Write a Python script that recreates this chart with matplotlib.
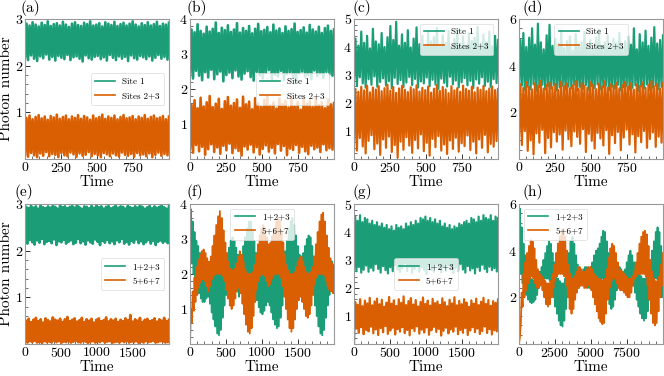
import numpy as np
import matplotlib
matplotlib.use("Agg")
import matplotlib.pyplot as plt
from matplotlib.ticker import AutoMinorLocator

plt.rcParams['font.family'] = ['cmr10', 'DejaVu Serif']
plt.rcParams['axes.formatter.use_mathtext'] = True
plt.rcParams['mathtext.fontset'] = 'cm'

GREEN = '#1b9e77'
ORANGE = '#d95f02'

# ---------------- data (peaks / troughs) ----------------
a_s1_hi = [2.90,2.86,2.93,2.88,2.84,2.92,2.87,2.95,2.85,2.89,2.91,2.86,2.94,2.88,2.83,2.90,2.93,2.87,2.85,2.92,2.89,2.95,2.86,2.88,2.91,2.84,2.93,2.90,2.87,2.94,2.85,2.89,2.92,2.86,2.90,2.95,2.88,2.84,2.91,2.87,2.93,2.86,2.89,2.94,2.85,2.90,2.88,2.92]
a_s1_lo = [2.18,2.12,2.22,2.15,2.10,2.20,2.16,2.24,2.13,2.19,2.11,2.21,2.17,2.14,2.23,2.12,2.18,2.20,2.15,2.09,2.22,2.16,2.13,2.19,2.21,2.14,2.18,2.11,2.23,2.17,2.12,2.20,2.15,2.19,2.10,2.22,2.16,2.13,2.21,2.18,2.14,2.20,2.11,2.17,2.23,2.15,2.19,2.13]
a_s23_hi = [0.88,0.93,0.85,0.90,0.94,0.87,0.91,0.84,0.92,0.89,0.95,0.86,0.90,0.93,0.85,0.91,0.88,0.94,0.86,0.92,0.89,0.84,0.93,0.87,0.90,0.95,0.86,0.91,0.88,0.93,0.85,0.90,0.94,0.87,0.89,0.92,0.85,0.91,0.88,0.94,0.86,0.90,0.93,0.87,0.89,0.92,0.85,0.91]
a_s23_lo = [0.10,0.05,0.13,0.08,0.04,0.12,0.07,0.15,0.06,0.11,0.09,0.04,0.13,0.08,0.06,0.14,0.10,0.05,0.12,0.07,0.09,0.15,0.06,0.11,0.08,0.04,0.13,0.10,0.06,0.12,0.08,0.05,0.14,0.09,0.07,0.11,0.05,0.13,0.08,0.10,0.06,0.12,0.04,0.09,0.14,0.07,0.11,0.08]

b_s1_hi = [3.70,3.62,3.85,3.66,3.58,3.78,3.64,3.72,3.90,3.60,3.75,3.68,3.82,3.63,3.70,3.88,3.61,3.74,3.66,3.80,3.59,3.72,3.86,3.65,3.69,3.77,3.62,3.84,3.67,3.73,3.60,3.79,3.66,3.71,3.87,3.63,3.68,3.76,3.61,3.83,3.70,3.64,3.78,3.60,3.74,3.81,3.66,3.70]
b_s1_lo = [2.45,2.30,2.52,2.38,2.25,2.48,2.33,2.55,2.28,2.42,2.50,2.22,2.40,2.47,2.31,2.53,2.36,2.27,2.44,2.51,2.34,2.24,2.49,2.39,2.30,2.46,2.54,2.29,2.41,2.36,2.52,2.26,2.43,2.48,2.32,2.21,2.45,2.50,2.35,2.40,2.28,2.53,2.37,2.44,2.31,2.49,2.42,2.38]
b_s23_hi = [1.55,1.68,1.45,1.75,1.50,1.62,1.80,1.48,1.58,1.72,1.43,1.65,1.77,1.52,1.60,1.70,1.46,1.78,1.56,1.64,1.42,1.74,1.59,1.49,1.69,1.79,1.53,1.61,1.44,1.73,1.57,1.66,1.47,1.76,1.51,1.63,1.41,1.71,1.58,1.67,1.48,1.75,1.54,1.62,1.45,1.70,1.56,1.60]
b_s23_lo = [0.30,0.18,0.40,0.22,0.35,0.12,0.28,0.42,0.20,0.33,0.15,0.38,0.25,0.44,0.17,0.31,0.23,0.10,0.36,0.27,0.41,0.19,0.34,0.13,0.29,0.39,0.21,0.32,0.16,0.43,0.24,0.37,0.11,0.30,0.26,0.40,0.18,0.35,0.22,0.14,0.38,0.28,0.33,0.20,0.42,0.25,0.31,0.27]

c_s1_hi = [4.30,4.05,4.55,4.15,4.40,3.95,4.65,4.20,4.10,4.50,4.00,4.35,4.75,4.25,4.90,4.05,4.45,4.15,4.60,3.98,4.30,4.70,4.10,4.40,4.02,4.55,4.20,4.35,4.68,4.08,4.42,4.15,4.58,4.00,4.28,4.62,4.12,4.38,4.05,4.50,4.22,4.33,4.72,4.10,4.45,4.18,4.55,4.03,4.40,4.25]
c_s1_lo = [2.80,2.60,2.92,2.70,2.55,2.85,2.65,2.95,2.58,2.75,2.88,2.62,2.78,2.52,2.90,2.68,2.82,2.57,2.73,2.93,2.64,2.86,2.55,2.77,2.70,2.91,2.60,2.83,2.66,2.50,2.87,2.72,2.59,2.94,2.67,2.80,2.56,2.74,2.89,2.63,2.79,2.53,2.84,2.69,2.92,2.61,2.76,2.58,2.85,2.71]
c_s23_hi = [2.50,2.40,2.58,2.45,2.62,2.38,2.55,2.48,2.60,2.42,2.53,2.65,2.44,2.57,2.36,2.52,2.61,2.47,2.39,2.56,2.49,2.63,2.41,2.54,2.46,2.59,2.37,2.51,2.64,2.43,2.57,2.48,2.35,2.60,2.45,2.53,2.40,2.62,2.50,2.44,2.58,2.38,2.55,2.47,2.61,2.42,2.52,2.59,2.46,2.50]
c_s23_lo = [0.60,0.30,0.75,0.45,0.20,0.65,0.85,0.35,0.55,0.15,0.70,0.40,0.80,0.25,0.50,0.05,0.62,0.33,0.78,0.48,0.22,0.68,0.38,0.88,0.28,0.58,0.12,0.72,0.42,0.82,0.30,0.52,0.18,0.66,0.36,0.76,0.26,0.56,0.46,0.84,0.32,0.62,0.20,0.70,0.40,0.86,0.24,0.54,0.44,0.64]

d_s1_hi = [5.10,5.40,4.80,5.20,5.60,4.90,5.80,5.00,4.70,5.30,5.75,4.85,5.15,4.95,5.50,4.75,5.05,5.25,4.65,5.35,4.90,5.00,5.45,4.80,5.10,4.70,5.20,5.55,4.85,5.00,5.30,4.75,5.15,4.95,5.40,4.80,5.05,5.25,4.90,5.60,4.70,5.35,5.00,5.50,4.85,5.20,5.65,4.95,5.10,5.30]
d_s1_lo = [3.05,3.15,2.95,3.10,3.00,3.20,2.92,3.08,3.18,2.98,3.12,3.02,3.16,2.94,3.06,3.14,2.97,3.11,3.03,3.19,2.93,3.09,3.01,3.17,2.96,3.13,3.04,3.20,2.99,3.07,3.15,2.95,3.10,3.02,3.18,2.94,3.08,3.12,2.98,3.05,3.16,2.92,3.11,3.03,3.19,2.97,3.06,3.14,3.00,3.09]
d_s23_hi = [3.20,3.05,3.30,3.10,2.98,3.25,3.15,3.35,3.02,3.18,3.28,3.08,3.22,2.96,3.32,3.12,3.24,3.04,3.16,3.34,3.00,3.26,3.14,3.06,3.30,3.19,2.99,3.23,3.11,3.33,3.07,3.21,3.15,3.27,3.03,3.17,3.31,3.09,3.25,2.97,3.20,3.13,3.29,3.05,3.18,3.34,3.10,3.22,3.01,3.26]
d_s23_lo = [1.00,0.60,1.20,0.35,0.80,0.20,1.10,0.70,1.25,0.25,0.90,0.50,1.15,0.75,1.05,0.40,1.22,0.85,0.55,1.18,0.95,0.65,1.28,0.30,1.08,0.78,0.45,1.12,0.88,0.58,1.24,0.22,1.02,0.68,1.16,0.38,0.92,1.26,0.62,1.06,0.28,0.98,0.72,1.20,0.48,0.86,1.14,0.52,0.96,0.70]

e_s123_hi = [2.94,2.91,2.96,2.92,2.95,2.90,2.97,2.93,2.91,2.95,2.92,2.96,2.94,2.90,2.97,2.93,2.95,2.91,2.94,2.96,2.92,2.98,2.93,2.90,2.95,2.94,2.91,2.96,2.92,2.97,2.93,2.95,2.90,2.94,2.96,2.91,2.93,2.97,2.92,2.95,2.94,2.90,2.96,2.93,2.91,2.95,2.92,2.97,2.94,2.90,2.93,2.96,2.91,2.95,2.92,2.94,2.97,2.93,2.90,2.95]
e_s123_lo = [2.20,2.15,2.23,2.18,2.13,2.22,2.17,2.25,2.14,2.19,2.21,2.16,2.24,2.12,2.20,2.18,2.23,2.15,2.19,2.22,2.14,2.17,2.25,2.16,2.20,2.13,2.22,2.18,2.15,2.24,2.19,2.12,2.21,2.17,2.23,2.16,2.20,2.14,2.22,2.18,2.25,2.15,2.19,2.13,2.21,2.17,2.24,2.16,2.20,2.14,2.18,2.23,2.15,2.21,2.12,2.19,2.22,2.17,2.20,2.16]
e_s567_hi = [0.50,0.54,0.47,0.52,0.56,0.49,0.53,0.46,0.55,0.51,0.48,0.57,0.52,0.50,0.54,0.47,0.53,0.58,0.49,0.52,0.55,0.48,0.51,0.56,0.47,0.53,0.50,0.54,0.46,0.52,0.55,0.49,0.51,0.57,0.48,0.53,0.50,0.54,0.47,0.52,0.49,0.55,0.51,0.62,0.48,0.53,0.50,0.56,0.47,0.52,0.54,0.49,0.51,0.55,0.48,0.53,0.50,0.56,0.49,0.52]
e_s567_lo = [0.05,0.03,0.06,0.04,0.07,0.03,0.05,0.02,0.06,0.04,0.05,0.03,0.07,0.04,0.06,0.02,0.05,0.04,0.06,0.03,0.05,0.07,0.04,0.03,0.06,0.05,0.02,0.04,0.06,0.03,0.05,0.04,0.07,0.03,0.05,0.06,0.02,0.04,0.05,0.03,0.06,0.04,0.07,0.03,0.05,0.04,0.06,0.02,0.05,0.03,0.06,0.04,0.05,0.07,0.03,0.04,0.06,0.05,0.03,0.04]

f_s123_hi = [3.85,3.50,3.20,2.95,2.80,2.60,2.45,2.35,2.30,2.25,2.20,2.15,2.10,2.05,2.00,2.00,2.00,2.05,2.15,2.35,2.55,2.75,2.95,3.05,2.95,2.75,2.55,2.40,2.55,2.80,3.05,3.30,3.50,3.50,3.25,2.95,2.60,2.35,2.15,2.05,2.00,2.05,2.15,2.25,2.20,2.10,2.05,2.00,2.00,2.00,2.10,2.35,2.65,2.95,3.25,3.50,3.60,3.40,3.10,2.80,2.55,2.50,2.60,2.80,3.00,3.10,3.05,2.80,2.50,2.25,2.10,2.00,2.00,2.00,2.05,2.15,2.30,2.40,2.35,2.25]
f_s123_lo = [2.60,2.30,2.00,1.80,1.60,1.45,1.30,1.20,1.20,1.30,1.35,1.15,0.90,0.70,0.50,0.30,0.25,0.40,0.75,1.10,1.40,1.70,1.90,2.00,1.95,1.75,1.50,1.35,1.45,1.70,1.90,2.00,2.00,2.00,1.95,1.75,1.50,1.25,1.05,0.90,0.85,0.95,1.10,1.20,1.10,0.90,0.70,0.55,0.45,0.50,0.75,1.10,1.45,1.75,1.95,2.00,2.00,1.95,1.80,1.60,1.50,1.45,1.60,1.80,1.95,2.00,1.95,1.75,1.45,1.10,0.80,0.50,0.30,0.25,0.40,0.75,1.10,1.40,1.60,1.75]
f_s567_hi = [1.00,1.50,1.90,2.20,2.40,2.55,2.65,2.70,2.60,2.45,2.35,2.50,2.80,3.10,3.40,3.65,3.80,3.60,3.25,2.90,2.60,2.35,2.15,2.10,2.15,2.30,2.50,2.65,2.55,2.35,2.15,2.05,2.00,2.00,2.05,2.25,2.55,2.85,3.10,3.30,3.40,3.30,3.05,2.85,2.90,3.10,3.30,3.50,3.60,3.55,3.25,2.90,2.55,2.25,2.10,2.00,2.00,2.05,2.20,2.35,2.45,2.50,2.35,2.20,2.05,2.00,2.05,2.20,2.50,2.85,3.20,3.50,3.70,3.75,3.50,3.10,2.75,2.45,2.30,2.10]
f_s567_lo = [0.05,0.60,0.95,1.20,1.40,1.60,1.75,1.85,1.80,1.65,1.50,1.65,1.85,1.95,2.00,2.00,2.00,2.00,1.95,1.80,1.55,1.30,1.10,1.00,1.10,1.30,1.50,1.60,1.45,1.15,0.85,0.55,0.35,0.30,0.45,0.80,1.20,1.55,1.80,1.95,2.00,1.95,1.80,1.65,1.70,1.85,1.95,2.00,2.00,2.00,1.90,1.65,1.35,1.00,0.70,0.45,0.35,0.45,0.70,1.00,1.25,1.35,1.20,1.00,0.80,0.75,0.85,1.10,1.40,1.70,1.90,2.00,2.00,2.00,1.95,1.80,1.65,1.55,1.50,1.45]

g_s123_hi = [4.55,4.40,4.60,4.35,4.50,4.45,4.30,4.40,4.25,4.35,4.20,4.30,4.15,4.25,4.10,4.20,4.05,4.25,4.15,4.20,4.10,4.30,4.20,4.35,4.25,4.40,4.30,4.50,4.45,4.55,4.40,4.50,4.35,4.45,4.30,4.40,4.20,4.30,4.15,4.25,4.10,4.20,4.15,4.30,4.25,4.35,4.40,4.30,4.50,4.45,4.35,4.55,4.40,4.60,4.50,4.45,4.60,4.40,4.55,4.50]
g_s123_lo = [2.70,2.60,2.75,2.55,2.65,2.80,2.58,2.72,2.62,2.85,2.68,2.55,2.78,2.64,2.52,2.74,2.60,2.82,2.66,2.57,2.70,2.88,2.61,2.76,2.54,2.68,2.80,2.59,2.73,2.63,2.50,2.77,2.65,2.58,2.84,2.69,2.56,2.75,2.62,2.81,2.67,2.53,2.72,2.60,2.86,2.66,2.55,2.78,2.63,2.70,2.52,2.74,2.61,2.83,2.68,2.57,2.76,2.64,2.71,2.59]
g_s567_hi = [1.50,1.40,1.60,1.35,1.55,1.45,1.65,1.38,1.52,1.62,1.42,1.58,1.33,1.48,1.68,1.44,1.56,1.36,1.60,1.47,1.70,1.39,1.53,1.64,1.41,1.57,1.34,1.50,1.66,1.43,1.55,1.37,1.61,1.46,1.52,1.40,1.63,1.49,1.35,1.58,1.45,1.67,1.38,1.54,1.42,1.60,1.48,1.33,1.56,1.44,1.62,1.39,1.51,1.65,1.43,1.57,1.36,1.53,1.47,1.59]
g_s567_lo = [0.00,0.55,0.40,0.60,0.35,0.50,0.45,0.62,0.38,0.52,0.32,0.57,0.42,0.64,0.36,0.48,0.58,0.34,0.53,0.44,0.60,0.39,0.50,0.31,0.56,0.46,0.63,0.37,0.51,0.41,0.59,0.33,0.49,0.61,0.43,0.54,0.30,0.47,0.58,0.38,0.52,0.44,0.62,0.35,0.50,0.40,0.57,0.32,0.48,0.60,0.42,0.55,0.36,0.46,0.63,0.39,0.53,0.34,0.49,0.45]

h_s123_hi = [5.80,5.00,4.30,3.80,3.40,3.00,2.80,2.75,2.70,2.75,2.90,3.10,3.30,3.60,3.90,4.20,4.40,4.30,3.90,3.50,3.10,2.80,2.70,2.60,2.60,2.80,3.30,3.90,4.40,4.60,4.30,3.80,3.40,3.20,3.10,3.20,3.30,3.30,3.20,3.30,3.50,3.80,4.00,4.10,4.30,4.60,4.85,4.80,4.40,3.90,3.40,3.00,2.80,2.90,3.10,3.30,3.20,3.10,3.20,3.50,3.80,4.00,3.80,3.50,3.30,3.20,3.10,2.90,2.80,2.80,2.90,3.20,3.60,4.00,4.40,4.80,5.00,4.80,4.20,3.60]
h_s123_lo = [4.20,3.00,2.60,2.30,2.10,1.90,1.80,1.75,1.80,1.90,2.10,2.40,2.60,2.70,2.80,2.80,2.80,2.70,2.40,2.00,1.60,1.30,1.00,0.80,0.75,1.00,1.50,2.10,2.60,2.80,2.70,2.50,2.40,2.40,2.50,2.60,2.60,2.50,2.40,2.40,2.50,2.60,2.70,2.80,2.80,2.80,2.80,2.70,2.40,2.00,1.70,1.50,1.60,1.90,2.30,2.60,2.70,2.70,2.70,2.70,2.80,2.80,2.70,2.50,2.20,1.90,1.60,1.30,1.10,1.00,1.10,1.40,1.90,2.40,2.70,2.80,2.80,2.70,2.30,2.00]
h_s567_hi = [0.30,2.20,3.00,3.50,3.90,4.20,4.45,4.40,4.10,3.60,3.20,3.00,2.90,2.80,2.70,2.60,2.60,2.70,3.00,3.40,3.90,4.30,4.60,4.85,4.90,4.60,4.00,3.40,3.00,2.80,2.90,3.10,3.30,3.30,3.20,3.10,3.10,3.20,3.30,3.30,3.20,3.00,2.90,2.80,2.80,2.75,2.70,2.80,3.20,3.70,4.10,4.30,4.20,3.90,3.50,3.20,3.10,3.10,3.00,2.90,2.80,2.80,2.90,3.10,3.50,3.90,4.30,4.60,4.80,4.85,4.70,4.20,3.60,3.10,2.80,2.70,2.70,2.90,3.40,3.90]
h_s567_lo = [0.00,0.90,1.60,2.00,2.30,2.60,2.80,2.90,2.80,2.60,2.40,2.40,2.50,2.30,2.00,1.70,1.60,1.70,2.00,2.40,2.70,2.90,3.00,3.00,3.00,2.90,2.50,2.00,1.50,1.30,1.50,1.90,2.20,2.40,2.50,2.50,2.40,2.40,2.50,2.50,2.30,2.00,1.70,1.40,1.10,0.95,0.85,0.90,1.30,1.90,2.40,2.70,2.80,2.80,2.60,2.40,2.30,2.30,2.20,2.10,2.00,2.00,2.20,2.50,2.80,2.90,3.00,3.00,3.00,3.00,2.90,2.50,1.90,1.30,0.90,0.80,0.90,1.40,2.00,2.50]

panel_labels = ['(a)', '(b)', '(c)', '(d)', '(e)', '(f)', '(g)', '(h)']
legend_top = ['Site 1', 'Sites 2+3']
legend_bottom = ['1+2+3', '5+6+7']
t_end = [1000, 1000, 1000, 1000, 2000, 2000, 2000, 10000]
x_ticks = [[0, 250, 500, 750]] * 4 + [[0, 500, 1000, 1500]] * 3 + [[0, 2500, 5000, 7500]]
y_top = [3, 4, 5, 6, 3, 4, 5, 6]
y_ticks = [[1, 2, 3], [1, 2, 3, 4], [1, 2, 3, 4, 5], [2, 4, 6],
           [1, 2, 3], [1, 2, 3, 4], [1, 2, 3, 4, 5], [2, 4, 6]]
legend_loc = ['center right', 'center right', 'upper right', 'upper center',
              'center right', 'upper center', 'center', 'upper left']

series = [
    (a_s1_lo, a_s1_hi, a_s23_lo, a_s23_hi),
    (b_s1_lo, b_s1_hi, b_s23_lo, b_s23_hi),
    (c_s1_lo, c_s1_hi, c_s23_lo, c_s23_hi),
    (d_s1_lo, d_s1_hi, d_s23_lo, d_s23_hi),
    (e_s123_lo, e_s123_hi, e_s567_lo, e_s567_hi),
    (f_s123_lo, f_s123_hi, f_s567_lo, f_s567_hi),
    (g_s123_lo, g_s123_hi, g_s567_lo, g_s567_hi),
    (h_s123_lo, h_s123_hi, h_s567_lo, h_s567_hi),
]
line_w = [1.9, 1.9, 1.6, 1.6, 1.9, 1.3, 1.6, 1.3]


def zigzag(lo, hi):
    y = np.empty(2 * len(lo))
    y[0::2] = lo
    y[1::2] = hi
    return y


W, H = 664, 376
fig = plt.figure(figsize=(W / 100, H / 100), dpi=100)
lefts = [25, 190, 354, 519]
tops = [19, 204]
aw, ah = 144, 140
label_x = [[20, 187, 353, 522], [15, 187, 352, 522]]
label_y = [8, 192]

for k in range(8):
    r, c = divmod(k, 4)
    ax = fig.add_axes([lefts[c] / W, 1 - (tops[r] + ah) / H, aw / W, ah / H])
    g_lo, g_hi, o_lo, o_hi = series[k]
    yg = zigzag(g_lo, g_hi)
    yo = zigzag(o_lo, o_hi)
    tg = np.linspace(0, t_end[k], len(yg))
    to = np.linspace(0, t_end[k], len(yo))
    names = legend_top if r == 0 else legend_bottom
    ax.plot(tg, yg, color=GREEN, lw=line_w[k], label=names[0])
    ax.plot(to, yo, color=ORANGE, lw=line_w[k], label=names[1])
    ax.set_xlim(0, t_end[k])
    ax.set_ylim(0, y_top[k])
    ax.set_xticks(x_ticks[k])
    ax.set_yticks(y_ticks[k])
    ax.xaxis.set_minor_locator(AutoMinorLocator(5))
    ax.yaxis.set_minor_locator(AutoMinorLocator(5))
    ax.tick_params(which='both', direction='in', labelsize=10, pad=1.5, color='0.2')
    ax.tick_params(which='major', length=3.5, width=0.7)
    ax.tick_params(which='minor', length=2, width=0.5)
    for s in ax.spines.values():
        s.set_color('0.6')
        s.set_linewidth(0.8)
    ax.set_xlabel('Time', fontsize=11, labelpad=0)
    if c == 0:
        ax.set_ylabel('Photon number', fontsize=11)
        ax.yaxis.set_label_coords(-0.085, 0.5)
    leg = ax.legend(loc=legend_loc[k], fontsize=6.5, handlelength=2.2, framealpha=0.8,
                    edgecolor='0.85', borderpad=0.5, labelspacing=0.6)
    leg.get_frame().set_linewidth(0.6)
    for ln in leg.get_lines():
        ln.set_linewidth(1.2)
    fig.text(label_x[r][c] / W, 1 - label_y[r] / H, panel_labels[k], fontsize=11,
             ha='left', va='center')

fig.savefig('out.png', dpi=100)
